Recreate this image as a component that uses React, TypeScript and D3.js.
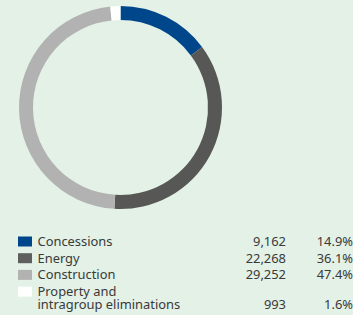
import React from 'react';
import * as d3 from 'd3';

const categories = ['Concessions', 'Energy', 'Construction', 'Property and\nintragroup eliminations'];
const values = [9162, 22268, 29252, 993];
const shares = ['14.9%', '36.1%', '47.4%', '1.6%'];
const colors = ['#00468b', '#575756', '#b2b2b2', '#ffffff'];
const swatch = ['#00468b', '#5f5f5f', '#b2b2b2', '#ffffff'];

const W = 353;
const H = 315;

export default function App() {
  const cx = 120.5, cy = 107.5;
  const outerR = 101.5, innerR = 87.5;

  const pie = d3.pie<number>().sort(null).value(d => d)(values);
  const arc = d3.arc<d3.PieArcDatum<number>>().innerRadius(innerR).outerRadius(outerR);

  // legend rows
  const rowY = d3.scaleLinear().domain([0, 1]).range([246, 262.7]);

  return (
    <div style={{ position: 'fixed', left: 0, top: 0 }}>
      <svg width={W} height={H} style={{ display: 'block', background: '#e3f1e7' }}>
        <g transform={`translate(${cx},${cy})`}>
          {pie.map((p, i) => (
            <path key={i} d={arc(p) || ''} fill={colors[i]} />
          ))}
        </g>
        <g fontFamily="'Noto Sans', sans-serif" fontSize={12.9} fill="#3a3a3a">
          {categories.map((c, i) => {
            const lines = c.split('\n');
            const base = rowY(i);
            const last = base + (lines.length - 1) * 12.4;
            return (
              <g key={i}>
                <rect x={18} y={base - 9.5} width={14} height={10} fill={swatch[i]} />
                {lines.map((l, j) => (
                  <text key={j} x={37.5} y={base + j * 12.4}>{l}</text>
                ))}
                <text x={286} y={last} textAnchor="end">{d3.format(',')(values[i])}</text>
                <text x={353} y={last} textAnchor="end">{shares[i]}</text>
              </g>
            );
          })}
        </g>
      </svg>
    </div>
  );
}
